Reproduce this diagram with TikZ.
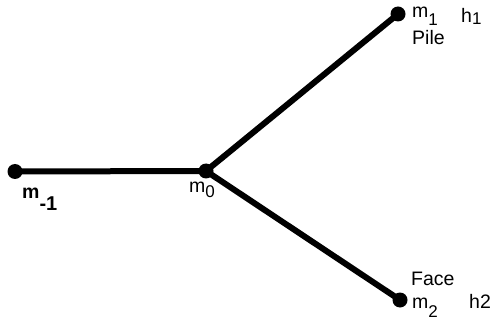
\documentclass[tikz,border=0pt]{standalone}
\usepackage{fontspec}
\setmainfont{Liberation Sans}
\begin{document}
\begin{tikzpicture}[x=1pt,y=-1pt,
  dot/.style={circle,fill=black,inner sep=0pt,minimum size=15pt},
  edge/.style={line width=6pt},
  lbl/.style={inner sep=0pt,anchor=base west,font=\fontsize{19.5}{22}\selectfont}]
\newcommand{\subtxt}[3][17]{\raisebox{-#2pt}{\fontsize{#1}{#1}\selectfont #3}}
\useasboundingbox (0,0) rectangle (494,320);
\node[dot] (a) at (15,171.5) {};
\node[dot] (b) at (206,171) {};
\node[dot] (c) at (398,14) {};
\node[dot] (d) at (400,300) {};
\draw[edge] (a.center) -- (b.center) -- (c.center);
\draw[edge] (b.center) -- (d.center);
\node[lbl] (lc) at (412,18) {m\subtxt{8}{1}};
\node[lbl] (lh1) at (461,23) {h\subtxt{2}{1}};
\node[lbl] (lp) at (412,45) {Pile};
\node[lbl] (lb) at (189,193) {m\subtxt{5}{0}};
\node[lbl,font=\fontsize{19.5}{22}\selectfont\bfseries] (la) at (22,198) {m\subtxt[20]{12}{\bfseries -1}};
\node[lbl] (lf) at (411,285) {Face};
\node[lbl] (ld) at (412,308) {m\subtxt{9}{2}};
\node[lbl] (lh2) at (469,308) {h2};
\end{tikzpicture}
\end{document}
